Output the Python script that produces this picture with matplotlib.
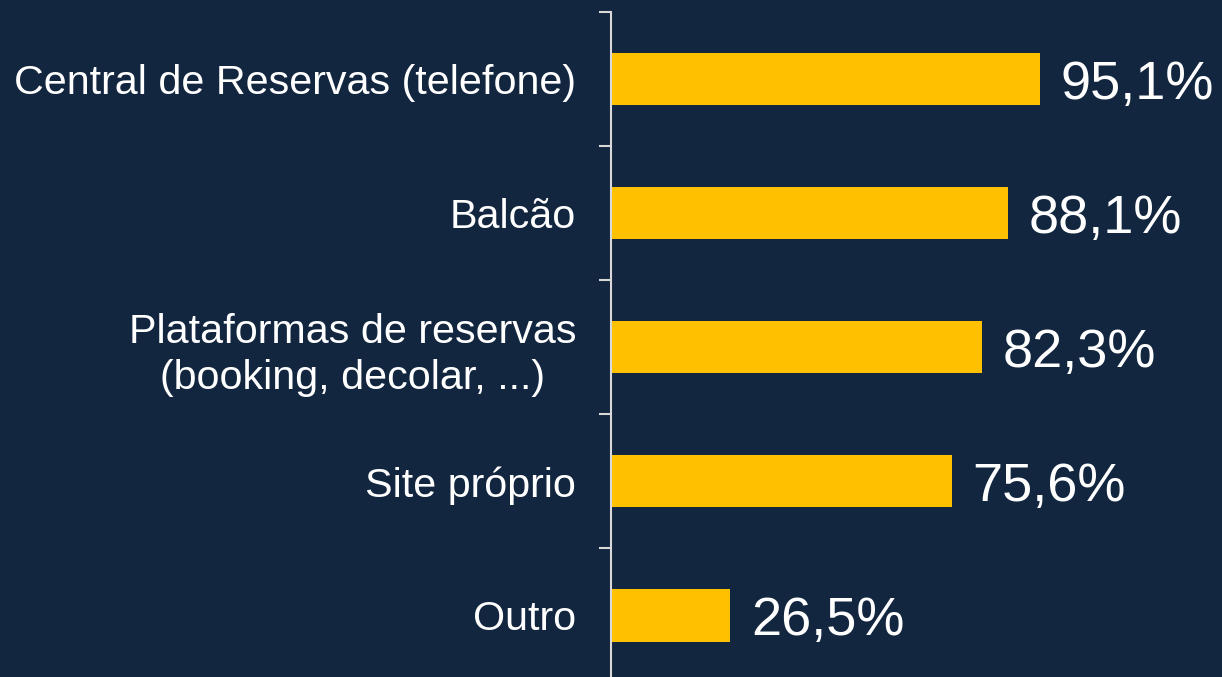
import matplotlib.pyplot as plt

# Canais de reserva (%)
categorias = [
    "Central de Reservas (telefone)",
    "Balcão",
    "Plataformas de reservas\n(booking, decolar, ...)",
    "Site próprio",
    "Outro",
]
valores = [95.1, 88.1, 82.3, 75.6, 26.5]
rotulos = ["95,1%", "88,1%", "82,3%", "75,6%", "26,5%"]

fundo = "#12263f"
amarelo = "#ffc000"

plt.rcParams["font.family"] = ["Liberation Sans", "DejaVu Sans"]

fig = plt.figure(figsize=(12.22, 6.77), dpi=100, facecolor=fundo)
ax = fig.add_axes([0.5, -0.0081, 0.5, 0.9904])
ax.set_facecolor(fundo)

pos = list(range(len(categorias)))
ax.barh(pos, valores, height=0.39, color=amarelo)

for p, v, r in zip(pos, valores, rotulos):
    ax.annotate(r, (v, p), xytext=(15, -4), textcoords="offset points",
                va="center", ha="left", color="white", fontsize=39)

ax.set_xlim(0, 135.6)
ax.set_ylim(4.5, -0.5)

ax.set_yticks(pos)
ax.set_yticklabels(categorias, fontsize=29.7, color="white")
for lab in ax.get_yticklabels():
    lab.set_multialignment("center")
    lab.set_linespacing(1.25)
ax.set_yticks([x - 0.5 for x in range(len(categorias) + 1)], minor=True)
ax.tick_params(axis="y", which="major", length=0, pad=25)
ax.tick_params(axis="y", which="minor", length=8.5, width=1.5, color="#d9d9d9", direction="out")
ax.set_xticks([])

for s in ["top", "right", "bottom"]:
    ax.spines[s].set_visible(False)
ax.spines["left"].set_color("#d9d9d9")
ax.spines["left"].set_linewidth(1.5)

fig.savefig("out.png", dpi=100, facecolor=fundo)
